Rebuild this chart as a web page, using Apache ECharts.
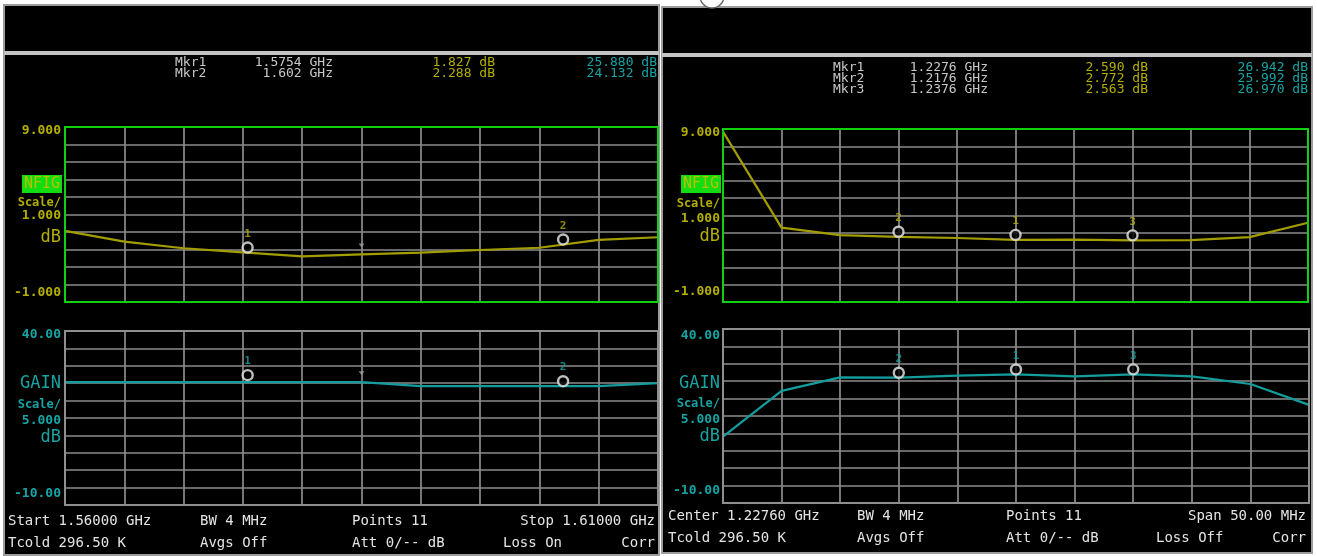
<!DOCTYPE html>
<html>
<head>
<meta charset="utf-8">
<script src="https://cdn.jsdelivr.net/npm/echarts@6/dist/echarts.min.js"></script>
<style>
  html, body { margin: 0; padding: 0; background: #ffffff; }
  #chart { width: 1317px; height: 556px; }
</style>
</head>
<body>
<div id="chart"></div>
<script>
// ---- Sweep 1: 1.56 - 1.61 GHz ----
const leftFreqGHz = [1.560, 1.565, 1.570, 1.575, 1.580, 1.585, 1.590, 1.595, 1.600, 1.605, 1.610];
const leftNF = [3.06, 2.45, 2.07, 1.84, 1.61, 1.72, 1.82, 1.97, 2.10, 2.55, 2.70];
const leftGain = [25.3, 25.3, 25.3, 25.3, 25.3, 25.3, 24.15, 24.15, 24.15, 24.15, 25.0];
const leftMarkerFreqGHz = [1.5754, 1.602];
const leftMarkerNF = [1.827, 2.288];
const leftMarkerGain = [25.880, 24.132];

// ---- Sweep 2: centre 1.2276 GHz, 50 MHz span ----
const rightFreqGHz = [1.2026, 1.2076, 1.2126, 1.2176, 1.2226, 1.2276, 1.2326, 1.2376, 1.2426, 1.2476, 1.2526];
const rightNF = [8.85, 3.30, 2.87, 2.77, 2.70, 2.59, 2.60, 2.56, 2.58, 2.75, 3.58];
const rightGain = [9.1, 22.2, 26.1, 26.0, 26.6, 26.94, 26.4, 26.97, 26.4, 24.2, 18.2];
const rightMarkerFreqGHz = [1.2276, 1.2176, 1.2376];
const rightMarkerNF = [2.590, 2.772, 2.563];
const rightMarkerGain = [26.942, 25.992, 26.970];

// ---- Scales ----
const nfRange = [-1, 9];
const nfInterval = 1;
const nfTickLabels = ['9.000', '-1.000'];
const gainRange = [-10, 40];
const gainInterval = 5;
const gainTickLabels = ['40.00', '-10.00'];

const YELLOW = '#b4ae00';
const YELLOW_TRACE = '#a39d00';
const TEAL = '#17a3a3';
const TEAL_TRACE = '#139d9d';
const GRIDLINE = '#8c8c8c';
const GREEN = '#10d010';
const MONO = '"DejaVu Sans Mono", "Liberation Mono", monospace';

const panels = [
  {
    freq: leftFreqGHz, nf: leftNF, gain: leftGain,
    mFreq: leftMarkerFreqGHz, mNF: leftMarkerNF, mGain: leftMarkerGain,
    frame: { x: 4, y: 5, w: 655, h: 550, sep: 51 },
    nfGrid: { left: 65, top: 127, width: 593, height: 175 },
    gainGrid: { left: 65, top: 331, width: 593, height: 174 },
    labelRight: 61,
    nfLabelY: { top: 131, tag: 184, scale: 203, per: 216, unit: 238, bottom: 293 },
    gainLabelY: { top: 335, tag: 384, scale: 405, per: 421, unit: 438, bottom: 494 },
    header: { y0: 63, dy: 11, mkrX: 175, freqR: 333, nfR: 495, gainR: 657 },
    status: { y1: 521, y2: 543, c0: 8, c1: 200, c2: 352, c3: 503, right: 655 },
    pin: true,
    mode: 'startstop', loss: 'Loss On'
  },
  {
    freq: rightFreqGHz, nf: rightNF, gain: rightGain,
    mFreq: rightMarkerFreqGHz, mNF: rightMarkerNF, mGain: rightMarkerGain,
    frame: { x: 662, y: 7, w: 650, h: 546, sep: 53 },
    nfGrid: { left: 723, top: 129, width: 585, height: 173 },
    gainGrid: { left: 723, top: 329, width: 586, height: 174 },
    labelRight: 720,
    nfLabelY: { top: 133, tag: 184, scale: 204, per: 219, unit: 237, bottom: 292 },
    gainLabelY: { top: 336, tag: 384, scale: 404, per: 420, unit: 437, bottom: 491 },
    header: { y0: 68, dy: 11, mkrX: 833, freqR: 988, nfR: 1148, gainR: 1308 },
    status: { y1: 516, y2: 538, c0: 668, c1: 857, c2: 1006, c3: 1156, right: 1306 },
    pin: false,
    mode: 'centerspan', loss: 'Loss Off'
  }
];

const grids = [], xAxes = [], yAxes = [], series = [], graphics = [];

function txt(x, y, text, color, size, align, weight) {
  return {
    type: 'text', x: x, y: y, z: 50,
    style: {
      text: text, fill: color,
      font: (weight || 'normal') + ' ' + size + 'px ' + MONO,
      align: align || 'left', verticalAlign: 'middle'
    }
  };
}

panels.forEach(function (p) {
  const f0 = p.freq[0];
  const spanMHz = (p.freq[p.freq.length - 1] - f0) * 1000;
  const toMHz = function (f) { return +((f - f0) * 1000).toFixed(3); };

  // panel frame
  graphics.push({
    type: 'rect', z: -20,
    shape: { x: p.frame.x, y: p.frame.y, width: p.frame.w, height: p.frame.h },
    style: { fill: '#000', stroke: '#9c9c9c', lineWidth: 2 }
  });
  graphics.push({
    type: 'rect', z: -19,
    shape: { x: p.frame.x, y: p.frame.sep, width: p.frame.w, height: 4 },
    style: { fill: '#c4c4c4' }
  });

  [[p.nfGrid, nfRange, nfInterval, p.nf, p.mNF, YELLOW_TRACE, YELLOW, GREEN],
   [p.gainGrid, gainRange, gainInterval, p.gain, p.mGain, TEAL_TRACE, TEAL, '#8f8f8f']]
  .forEach(function (cfg) {
    const g = cfg[0], idx = grids.length;
    grids.push({ left: g.left, top: g.top, width: g.width, height: g.height, show: false });
    xAxes.push({
      type: 'value', gridIndex: idx, min: 0, max: spanMHz, interval: 5,
      axisLine: { show: false }, axisTick: { show: false }, axisLabel: { show: false },
      splitLine: { show: true, lineStyle: { color: GRIDLINE, width: 1.7 } }
    });
    yAxes.push({
      type: 'value', gridIndex: idx, min: cfg[1][0], max: cfg[1][1], interval: cfg[2],
      axisLine: { show: false }, axisTick: { show: false }, axisLabel: { show: false },
      splitLine: { show: true, lineStyle: { color: GRIDLINE, width: 1.7 } }
    });
    series.push({
      type: 'line', xAxisIndex: idx, yAxisIndex: idx, showSymbol: false, silent: true,
      animation: false, z: 5,
      lineStyle: { color: cfg[5], width: 2.2 },
      data: p.freq.map(function (f, i) { return [toMHz(f), cfg[3][i]]; })
    });
    series.push({
      type: 'scatter', xAxisIndex: idx, yAxisIndex: idx, animation: false, z: 8,
      symbol: 'circle', symbolSize: 10, symbolOffset: [0, -5],
      itemStyle: { color: '#000', borderColor: '#ececec', borderWidth: 2.4 },
      label: {
        show: true, position: 'top', distance: 2, color: cfg[6],
        fontFamily: MONO, fontSize: 11, fontWeight: 'bold',
        formatter: function (d) { return String(d.dataIndex + 1); }
      },
      data: p.mFreq.map(function (f, i) { return [toMHz(f), cfg[4][i]]; })
    });
    if (p.pin) {
      const mid = Math.floor(p.freq.length / 2);
      series.push({
        type: 'scatter', xAxisIndex: idx, yAxisIndex: idx, animation: false, z: 7,
        symbol: 'triangle', symbolRotate: 180, symbolSize: [6, 4], symbolOffset: [0, -9],
        itemStyle: { color: '#9a9a9a' },
        data: [[toMHz(p.freq[mid]), cfg[3][mid]]]
      });
    }
    // grid border on top of the split lines
    graphics.push({
      type: 'rect', z: 20,
      shape: { x: g.left, y: g.top, width: g.width, height: g.height },
      style: { fill: 'none', stroke: cfg[7], lineWidth: 2 }
    });
  });

  // left-hand scale annotations
  const r = p.labelRight, n = p.nfLabelY, gl = p.gainLabelY;
  graphics.push(txt(r, n.top, nfTickLabels[0], YELLOW, 13, 'right', 'bold'));
  graphics.push({
    type: 'rect', z: 40,
    shape: { x: r - 39, y: n.tag - 9, width: 40, height: 18 },
    style: { fill: '#12dc12' }
  });
  graphics.push(txt(r - 19, n.tag, 'NFIG', '#b8c000', 15, 'center'));
  graphics.push(txt(r, n.scale, 'Scale/', YELLOW, 12, 'right', 'bold'));
  graphics.push(txt(r, n.per, (nfInterval).toFixed(3), YELLOW, 13, 'right', 'bold'));
  graphics.push(txt(r, n.unit, 'dB', YELLOW, 17, 'right'));
  graphics.push(txt(r, n.bottom, nfTickLabels[1], YELLOW, 13, 'right', 'bold'));

  graphics.push(txt(r, gl.top, gainTickLabels[0], TEAL, 13, 'right', 'bold'));
  graphics.push(txt(r, gl.tag, 'GAIN', TEAL, 17, 'right'));
  graphics.push(txt(r, gl.scale, 'Scale/', TEAL, 12, 'right', 'bold'));
  graphics.push(txt(r, gl.per, (gainInterval).toFixed(3), TEAL, 13, 'right', 'bold'));
  graphics.push(txt(r, gl.unit, 'dB', TEAL, 17, 'right'));
  graphics.push(txt(r, gl.bottom, gainTickLabels[1], TEAL, 13, 'right', 'bold'));

  // marker readout
  const h = p.header;
  p.mFreq.forEach(function (f, i) {
    const y = h.y0 + i * h.dy;
    graphics.push(txt(h.mkrX, y, 'Mkr' + (i + 1), '#c8c8c8', 13, 'left'));
    graphics.push(txt(h.freqR, y, String(f) + ' GHz', '#c8c8c8', 13, 'right'));
    graphics.push(txt(h.nfR, y, p.mNF[i].toFixed(3) + ' dB', YELLOW, 13, 'right'));
    graphics.push(txt(h.gainR, y, p.mGain[i].toFixed(3) + ' dB', TEAL, 13, 'right'));
  });

  // status lines
  const s = p.status, last = p.freq[p.freq.length - 1];
  const WHITE = '#e4e4e4';
  if (p.mode === 'startstop') {
    graphics.push(txt(s.c0, s.y1, 'Start ' + f0.toFixed(5) + ' GHz', WHITE, 14, 'left'));
    graphics.push(txt(s.right, s.y1, 'Stop ' + last.toFixed(5) + ' GHz', WHITE, 14, 'right'));
  } else {
    graphics.push(txt(s.c0, s.y1, 'Center ' + ((f0 + last) / 2).toFixed(5) + ' GHz', WHITE, 14, 'left'));
    graphics.push(txt(s.right, s.y1, 'Span ' + spanMHz.toFixed(2) + ' MHz', WHITE, 14, 'right'));
  }
  graphics.push(txt(s.c1, s.y1, 'BW 4 MHz', WHITE, 14, 'left'));
  graphics.push(txt(s.c2, s.y1, 'Points ' + p.freq.length, WHITE, 14, 'left'));
  graphics.push(txt(s.c0, s.y2, 'Tcold 296.50 K', WHITE, 14, 'left'));
  graphics.push(txt(s.c1, s.y2, 'Avgs Off', WHITE, 14, 'left'));
  graphics.push(txt(s.c2, s.y2, 'Att 0/-- dB', WHITE, 14, 'left'));
  graphics.push(txt(s.c3, s.y2, p.loss, WHITE, 14, 'left'));
  graphics.push(txt(s.right, s.y2, 'Corr', WHITE, 14, 'right'));
});

// partially visible ring above the second screen
graphics.push({
  type: 'circle', z: 30,
  shape: { cx: 712, cy: -4, r: 12 },
  style: { fill: '#fff', stroke: '#6a6a6a', lineWidth: 1.5 }
});

const chart = echarts.init(document.getElementById('chart'), null, { renderer: 'canvas' });
chart.setOption({
  backgroundColor: '#ffffff',
  animation: false,
  grid: grids,
  xAxis: xAxes,
  yAxis: yAxes,
  series: series,
  graphic: { elements: graphics }
});
</script>
</body>
</html>
